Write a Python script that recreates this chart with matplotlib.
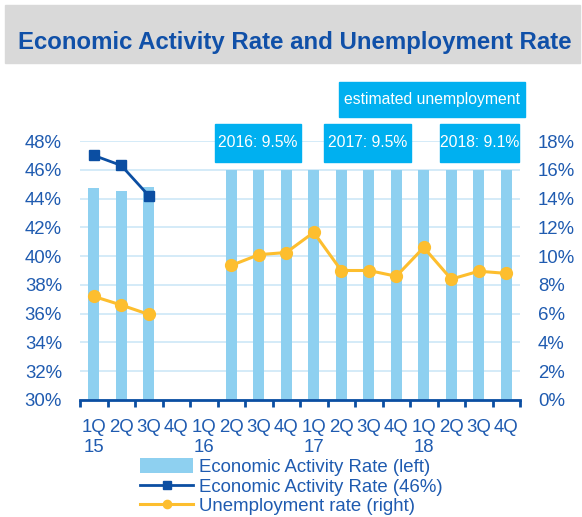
import numpy as np
import matplotlib
matplotlib.use("Agg")
import matplotlib.pyplot as plt
from matplotlib.patches import Rectangle

plt.rcParams['font.family'] = ['Liberation Sans', 'DejaVu Sans']

# data
quarters = ['1Q', '2Q', '3Q', '4Q'] * 4
years = ['15', '16', '17', '18']
activity_bars = [44.7, 44.5, 44.8, np.nan, np.nan, 46, 46, 46, 46, 46, 46, 46, 46, 46, 46, 46]
activity_line = [47.0, 46.3, 44.2] + [np.nan] * 13
unemployment = [7.2, 6.6, 5.95, np.nan, np.nan, 9.35, 10.1, 10.25, 11.65,
                9.0, 9.0, 8.6, 10.6, 8.4, 8.95, 8.8]
notes = ['2016: 9.5%', '2017: 9.5%', '2018: 9.1%', 'estimated unemployment']
# box extents (x0, x1 in category units; y0, y1 in left-axis units)
note_boxes = [(4.41, 7.53, 46.56, 49.18), (8.37, 11.53, 46.56, 49.18),
              (12.59, 15.46, 46.56, 49.18), (8.93, 15.69, 49.65, 52.12)]

BLUE_TXT = '#1F5BB0'
BAR = '#8ED0F0'
DARK = '#0B4EA2'
ORANGE = '#FDBE2E'
BOX = '#00B0F0'
GRID = '#CDE8F7'
FS = 13.4

fig = plt.figure(figsize=(5.82, 5.17), dpi=100)
fig.patches.append(Rectangle((5 / 582, 1 - 63 / 517), 575 / 582, 58 / 517,
                             transform=fig.transFigure, color='#D9D9D9', zorder=0))
fig.text(295 / 582, 1 - 43 / 517, 'Economic Activity Rate and Unemployment Rate',
         ha='center', va='center', fontsize=17.3, fontweight='bold', color='#1050A8')

ax = fig.add_axes([80 / 582, 117 / 517, 440 / 582, 259 / 517])
ax2 = ax.twinx()
x = np.arange(len(quarters))

bars = ax.bar(x, activity_bars, width=0.4, color=BAR, zorder=2,
              label='Economic Activity Rate (left)')
l1, = ax.plot(x, activity_line, color=DARK, lw=2, marker='s', ms=7.5, zorder=3,
              label='Economic Activity Rate (46%)')
l2, = ax2.plot(x, unemployment, color=ORANGE, lw=2.2, marker='o', ms=8.5, zorder=3,
               label='Unemployment rate (right)')

ax.set_xlim(-0.5, len(quarters) - 0.5)
ax.set_ylim(30, 48)
ax2.set_ylim(0, 18)
ax.set_yticks(np.arange(30, 49, 2))
ax.set_yticklabels([f'{v}%' for v in range(30, 49, 2)])
ax2.set_yticks(np.arange(0, 19, 2))
ax2.set_yticklabels([f'{v}%' for v in range(0, 19, 2)])
ax.grid(axis='y', color=GRID, lw=1.2, zorder=0)
ax.set_axisbelow(True)

labels = [q + ('\n' + years[i // 4] if i % 4 == 0 else '\n') for i, q in enumerate(quarters)]
ax.set_xticks(x)
ax.set_xticklabels(labels, linespacing=1.2)
ax.set_xticks(np.arange(-0.5, len(quarters)), minor=True)
ax.tick_params(axis='x', which='major', length=0, pad=14, labelsize=FS, labelcolor=BLUE_TXT)
ax.tick_params(axis='x', which='minor', length=5, width=2, color=DARK)
ax.tick_params(axis='y', length=0, pad=13, labelsize=FS, labelcolor=BLUE_TXT)
ax2.tick_params(axis='y', length=0, pad=13, labelsize=FS, labelcolor=BLUE_TXT)

for a in (ax, ax2):
    for s in ('top', 'left', 'right'):
        a.spines[s].set_visible(False)
ax.spines['bottom'].set_color(DARK)
ax.spines['bottom'].set_linewidth(2)
ax2.spines['bottom'].set_visible(False)

for txt, (x0, x1, y0, y1) in zip(notes, note_boxes):
    ax.add_patch(Rectangle((x0, y0), x1 - x0, y1 - y0, color=BOX, clip_on=False, zorder=5))
    ax.text((x0 + x1) / 2, (y0 + y1) / 2, txt, ha='center', va='center', color='white',
            fontsize=11.3, clip_on=False, zorder=6)

fig.legend([bars, l1, l2], [bars.get_label(), l1.get_label(), l2.get_label()],
           loc='upper left', bbox_to_anchor=(140 / 582, 1 - 458 / 517),
           frameon=False, fontsize=FS, labelcolor=BLUE_TXT, handlelength=2.85,
           handletextpad=0.3, labelspacing=0.1, borderpad=0, borderaxespad=0,
           markerscale=0.7, handleheight=0.85)

fig.savefig('out.png', dpi=100)
